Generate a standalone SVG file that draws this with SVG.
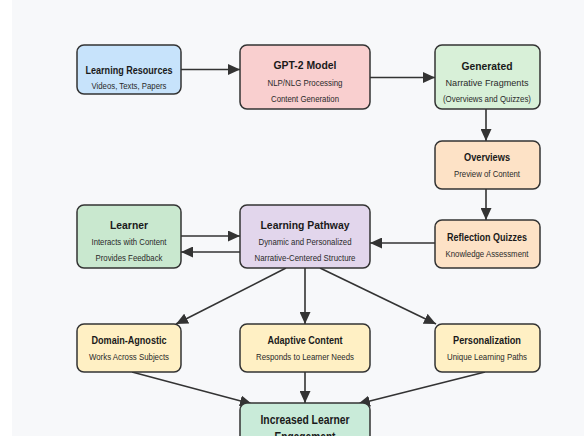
<svg xmlns="http://www.w3.org/2000/svg" width="584" height="436" viewBox="0 0 584 436">
<style>
.box{stroke:#333;stroke-width:1.5}
.t{font-family:"Liberation Sans",Arial,sans-serif;font-weight:bold;font-size:11.5px;fill:#1a1a1a;text-anchor:middle}
.s{font-family:"Liberation Sans",Arial,sans-serif;font-size:9px;fill:#2a2a2a;text-anchor:middle}
.c{stroke:#333;stroke-width:1.6;fill:none;marker-end:url(#ah)}
</style>
<defs>
<marker id="ah" markerWidth="13" markerHeight="11" refX="12" refY="5.5" orient="auto" markerUnits="userSpaceOnUse">
<path d="M0,0 L12,5.5 L0,11 Z" fill="#333"/>
</marker>
</defs>
<rect x="0" y="0" width="584" height="436" fill="#ffffff"/>
<rect x="12" y="0" width="572" height="436" fill="#f7f8fa"/>
<g id="connectors">
<line class="c" x1="181" y1="69.5" x2="240" y2="69.5"/>
<line class="c" x1="370" y1="77.5" x2="435" y2="77.5"/>
<line class="c" x1="486" y1="109" x2="486" y2="141"/>
<line class="c" x1="486" y1="189" x2="486" y2="220"/>
<line class="c" x1="435" y1="243" x2="370" y2="243"/>
<line class="c" x1="181" y1="236" x2="240" y2="236"/>
<line class="c" x1="240" y1="252" x2="181" y2="252"/>
<line class="c" x1="286" y1="268" x2="176" y2="324"/>
<line class="c" x1="305" y1="268" x2="305" y2="324"/>
<line class="c" x1="320" y1="268" x2="436" y2="324"/>
<line class="c" x1="132" y1="372" x2="252" y2="404"/>
<line class="c" x1="305" y1="372" x2="305" y2="403"/>
<line class="c" x1="485" y1="372" x2="358" y2="404"/>
</g>
<g id="learning-resources">
<rect class="box" x="77" y="45" width="104" height="49" rx="7" fill="#c7e3fb"/>
<text class="t" x="129" y="74" textLength="87" lengthAdjust="spacingAndGlyphs">Learning Resources</text>
<text class="s" x="129" y="89" textLength="75" lengthAdjust="spacingAndGlyphs">Videos, Texts, Papers</text>
</g>
<g id="gpt2">
<rect class="box" x="240" y="45" width="130" height="64" rx="7" fill="#f9cfcf"/>
<text class="t" x="305" y="69" textLength="63" lengthAdjust="spacingAndGlyphs">GPT-2 Model</text>
<text class="s" x="305" y="86" textLength="75" lengthAdjust="spacingAndGlyphs">NLP/NLG Processing</text>
<text class="s" x="305" y="102" textLength="68" lengthAdjust="spacingAndGlyphs">Content Generation</text>
</g>
<g id="generated">
<rect class="box" x="435" y="45" width="105" height="64" rx="7" fill="#d8f0d8"/>
<text class="t" x="487" y="70" textLength="51" lengthAdjust="spacingAndGlyphs">Generated</text>
<text class="s" x="487" y="86" textLength="83" lengthAdjust="spacingAndGlyphs" style="font-size:9.5px">Narrative Fragments</text>
<text class="s" x="487" y="102" textLength="88" lengthAdjust="spacingAndGlyphs">(Overviews and Quizzes)</text>
</g>
<g id="overviews">
<rect class="box" x="435" y="141" width="105" height="48" rx="7" fill="#fde2c6"/>
<text class="t" x="487" y="161" textLength="46" lengthAdjust="spacingAndGlyphs">Overviews</text>
<text class="s" x="487" y="177" textLength="66" lengthAdjust="spacingAndGlyphs">Preview of Content</text>
</g>
<g id="reflection-quizzes">
<rect class="box" x="435" y="220" width="105" height="48" rx="7" fill="#fde2c6"/>
<text class="t" x="487" y="241" textLength="80" lengthAdjust="spacingAndGlyphs">Reflection Quizzes</text>
<text class="s" x="487" y="257" textLength="83" lengthAdjust="spacingAndGlyphs">Knowledge Assessment</text>
</g>
<g id="learner">
<rect class="box" x="77" y="205" width="104" height="63" rx="7" fill="#c9e8cf"/>
<text class="t" x="129" y="229" textLength="38" lengthAdjust="spacingAndGlyphs">Learner</text>
<text class="s" x="129" y="245" textLength="75" lengthAdjust="spacingAndGlyphs">Interacts with Content</text>
<text class="s" x="129" y="261" textLength="67" lengthAdjust="spacingAndGlyphs">Provides Feedback</text>
</g>
<g id="learning-pathway">
<rect class="box" x="240" y="205" width="130" height="63" rx="7" fill="#e2d6ec"/>
<text class="t" x="305" y="229" textLength="89" lengthAdjust="spacingAndGlyphs">Learning Pathway</text>
<text class="s" x="305" y="245" textLength="93" lengthAdjust="spacingAndGlyphs">Dynamic and Personalized</text>
<text class="s" x="305" y="261" textLength="101" lengthAdjust="spacingAndGlyphs">Narrative-Centered Structure</text>
</g>
<g id="domain-agnostic">
<rect class="box" x="77" y="324" width="104" height="48" rx="7" fill="#fff0c4"/>
<text class="t" x="129" y="344" textLength="75" lengthAdjust="spacingAndGlyphs">Domain-Agnostic</text>
<text class="s" x="129" y="360" textLength="80" lengthAdjust="spacingAndGlyphs">Works Across Subjects</text>
</g>
<g id="adaptive-content">
<rect class="box" x="240" y="324" width="130" height="48" rx="7" fill="#fff0c4"/>
<text class="t" x="305" y="344" textLength="75" lengthAdjust="spacingAndGlyphs">Adaptive Content</text>
<text class="s" x="305" y="360" textLength="98" lengthAdjust="spacingAndGlyphs">Responds to Learner Needs</text>
</g>
<g id="personalization">
<rect class="box" x="435" y="324" width="105" height="48" rx="7" fill="#fff0c4"/>
<text class="t" x="487" y="344" textLength="68" lengthAdjust="spacingAndGlyphs">Personalization</text>
<text class="s" x="487" y="360" textLength="80" lengthAdjust="spacingAndGlyphs">Unique Learning Paths</text>
</g>
<g id="increased-engagement">
<rect class="box" x="240" y="403" width="130" height="60" rx="7" fill="#c9ebd9"/>
<text class="t" x="305" y="424" textLength="89" lengthAdjust="spacingAndGlyphs" style="font-size:12px">Increased Learner</text>
<text class="t" x="305" y="441" textLength="61" lengthAdjust="spacingAndGlyphs" style="font-size:12px">Engagement</text>
</g>
</svg>
